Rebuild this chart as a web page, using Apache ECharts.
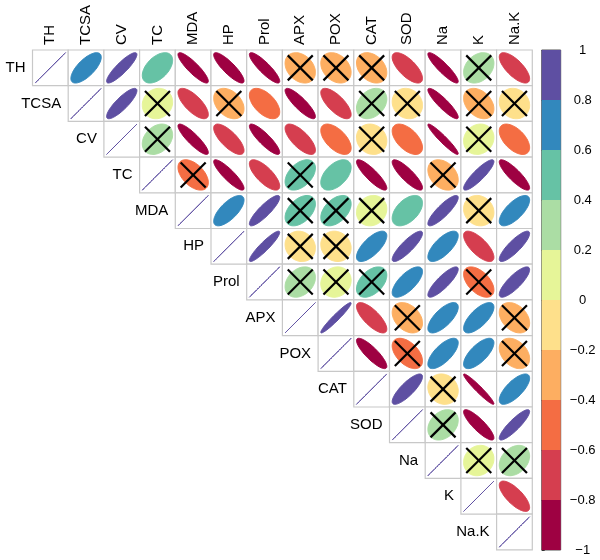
<!DOCTYPE html>
<html>
<head>
<meta charset="utf-8">
<script src="https://cdn.jsdelivr.net/npm/echarts@6/dist/echarts.min.js"></script>
<style>html,body{margin:0;padding:0;background:#fff}#c{width:600px;height:560px}</style>
</head>
<body>
<div id="c"></div>
<script>
const names = ['TH','TCSA','CV','TC','MDA','HP','Prol','APX','POX','CAT','SOD','Na','K','Na.K'];

// upper-triangle correlations, row i holds columns i+1..13
const corrTH   = [0.70, 0.88, 0.50, -0.88, -0.86, -0.88, -0.30, -0.30, -0.32, -0.70, -0.90, 0.30, -0.72];
const corrTCSA = [0.85, 0.10, -0.72, -0.35, -0.55, -0.86, -0.72, 0.30, -0.12, -0.90, -0.35, -0.12];
const corrCV   = [0.30, -0.88, -0.74, -0.87, -0.72, -0.58, -0.12, -0.55, -0.95, 0.12, -0.55];
const corrTC   = [-0.50, -0.88, -0.74, 0.45, 0.50, -0.87, -0.85, -0.32, 0.88, -0.86];
const corrMDA  = [0.70, 0.87, 0.45, 0.45, 0.12, 0.50, 0.86, -0.12, 0.70];
const corrHP   = [0.92, -0.12, -0.12, 0.70, 0.86, 0.70, -0.72, 0.85];
const corrProl = [0.30, 0.12, 0.45, 0.70, 0.85, -0.52, 0.82];
const corrAPX  = [0.96, -0.75, -0.35, 0.70, 0.70, -0.35];
const corrPOX  = [-0.85, -0.50, 0.70, 0.70, -0.35];
const corrCAT  = [0.82, -0.12, -0.96, 0.72];
const corrSOD  = [0.30, -0.86, 0.88];
const corrNa   = [0.12, 0.30];
const corrK    = [-0.74];

// 1 = non-significant (crossed out)
const crossTH   = [0,0,0,0,0,0,1,1,1,0,0,1,0];
const crossTCSA = [0,1,0,1,0,0,0,1,1,0,1,1];
const crossCV   = [1,0,0,0,0,0,1,0,0,1,0];
const crossTC   = [1,0,0,1,0,0,0,1,0,0];
const crossMDA  = [0,0,1,1,1,0,0,1,0];
const crossHP   = [0,1,1,0,0,0,0,0];
const crossProl = [1,1,1,0,0,1,0];
const crossAPX  = [0,0,1,0,0,1];
const crossPOX  = [0,1,0,0,1];
const crossCAT  = [0,1,0,0];
const crossSOD  = [1,0,0];
const crossNa   = [1,1];
const crossK    = [0];

const binColors = ['#9E0142','#D53E4F','#F46D43','#FDAE61','#FEE08B','#E6F598','#ABDDA4','#66C2A5','#3288BD','#5E4FA2'];
const binEdges = [-1,-0.8,-0.6,-0.4,-0.2,0,0.2,0.4,0.6,0.8,1];

const corrRows = [corrTH,corrTCSA,corrCV,corrTC,corrMDA,corrHP,corrProl,corrAPX,corrPOX,corrCAT,corrSOD,corrNa,corrK,[]];
const crossRows = [crossTH,crossTCSA,crossCV,crossTC,crossMDA,crossHP,crossProl,crossAPX,crossPOX,crossCAT,crossSOD,crossNa,crossK,[]];

const cells = [];
for (let i = 0; i < names.length; i++) {
  cells.push([i, i, 1, 0]);
  corrRows[i].forEach((r, k) => cells.push([i + 1 + k, i, r, crossRows[i][k]]));
}
const bins = binColors.map((c, i) => [binEdges[i], binEdges[i + 1], i]);

function colorOf(r) {
  return binColors[Math.min(9, Math.max(0, Math.floor((r + 1) / 0.2 + 1e-9)))];
}

const FONT = '"Liberation Sans", Arial, Helvetica, sans-serif';

const chart = echarts.init(document.getElementById('c'), null, {renderer: 'canvas'});
chart.setOption({
  backgroundColor: '#fff',
  animation: false,
  grid: [
    {left: 32.5, top: 50, width: 499.8, height: 499.8},
    {left: 541.7, top: 50, width: 19, height: 500, show: true, borderColor: '#555', borderWidth: 1, backgroundColor: 'transparent'}
  ],
  xAxis: [
    {type: 'category', data: names, gridIndex: 0, position: 'top', show: false},
    {type: 'value', gridIndex: 1, min: 0, max: 1, show: false}
  ],
  yAxis: [
    {type: 'category', data: names, gridIndex: 0, inverse: true, show: false},
    {type: 'value', gridIndex: 1, min: -1, max: 1, interval: 0.2, position: 'right',
     axisLine: {show: false}, splitLine: {show: false},
     axisTick: {show: true, length: 3, inside: false, lineStyle: {color: '#333', width: 1}},
     axisLabel: {fontSize: 13, color: '#000', fontFamily: FONT, align: 'center', margin: 22,
       formatter: v => { const s = (Math.round(v * 10) / 10).toString(); return s.replace('-', '\u2212'); }}}
  ],
  series: [
    {
      type: 'custom', xAxisIndex: 0, yAxisIndex: 0, data: cells, clip: false,
      renderItem: function (params, api) {
        const c = api.value(0), rI = api.value(1), r = api.value(2), x = api.value(3);
        const ctr = api.coord([c, rI]);
        const sz = api.size([1, 1]);
        const w = sz[0], h = sz[1];
        const children = [];
        children.push({type: 'rect', shape: {x: ctr[0] - w / 2, y: ctr[1] - h / 2, width: w, height: h},
          style: {fill: '#fff', stroke: '#C8C8C8', lineWidth: 1.2}});
        const d = Math.acos(Math.max(-1, Math.min(1, r)));
        const pts = [];
        const N = 80;
        for (let k = 0; k < N; k++) {
          const t = 2 * Math.PI * k / N;
          const ex = 0.85 * Math.cos(t + d / 2) / 2;
          const ey = 0.85 * Math.cos(t - d / 2) / 2;
          pts.push([ctr[0] + ex * w, ctr[1] - ey * h]);
        }
        const col = colorOf(r);
        children.push({type: 'polygon', shape: {points: pts},
          style: {fill: col, stroke: col, lineWidth: 1}});
        if (x) {
          const s = 12.5;
          children.push({type: 'line', shape: {x1: ctr[0] - s, y1: ctr[1] - s, x2: ctr[0] + s, y2: ctr[1] + s},
            style: {stroke: '#000', lineWidth: 2.2}});
          children.push({type: 'line', shape: {x1: ctr[0] - s, y1: ctr[1] + s, x2: ctr[0] + s, y2: ctr[1] - s},
            style: {stroke: '#000', lineWidth: 2.2}});
        }
        if (c === rI) {
          children.push({type: 'text', style: {text: names[rI], x: ctr[0] - w / 2 - 7, y: ctr[1],
            align: 'right', verticalAlign: 'middle', fontSize: 15, fontFamily: FONT, fill: '#000'}});
        }
        if (rI === 0) {
          children.push({type: 'text', x: ctr[0], y: ctr[1] - h / 2 - 5, rotation: Math.PI / 2,
            style: {text: names[c], x: 0, y: 0, align: 'left', verticalAlign: 'middle',
              fontSize: 15, fontFamily: FONT, fill: '#000'}});
        }
        return {type: 'group', children: children};
      }
    },
    {
      type: 'custom', xAxisIndex: 1, yAxisIndex: 1, data: bins, clip: false, z: 1,
      renderItem: function (params, api) {
        const lo = api.value(0), hi = api.value(1), idx = api.value(2);
        const p1 = api.coord([0, hi]);
        const p2 = api.coord([1, lo]);
        return {type: 'rect', shape: {x: p1[0], y: p1[1], width: p2[0] - p1[0], height: p2[1] - p1[1]},
          style: {fill: binColors[idx], stroke: null}};
      }
    }
  ]
});
</script>
</body>
</html>
